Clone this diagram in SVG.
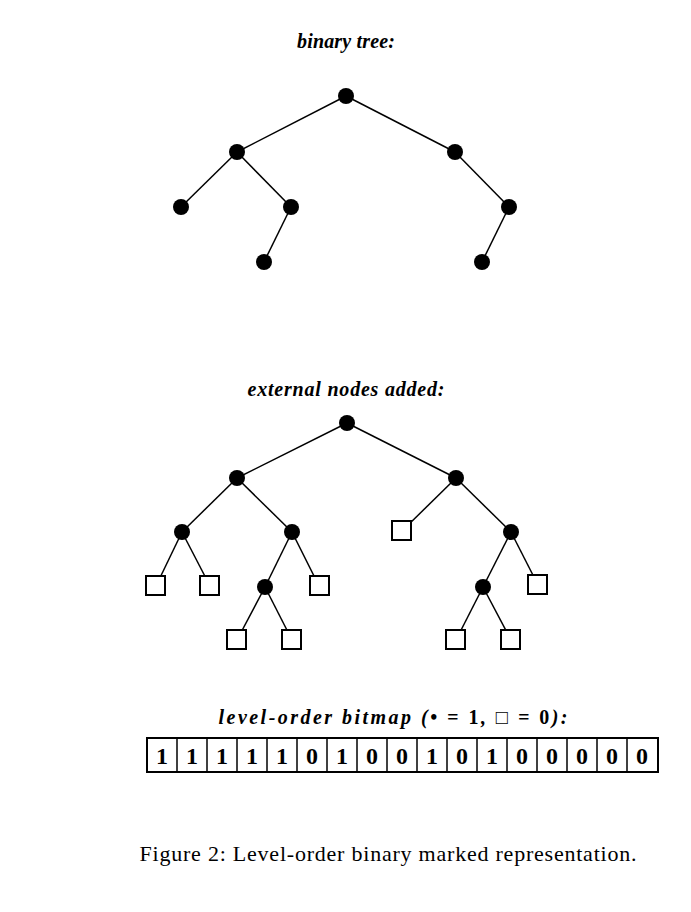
<svg xmlns="http://www.w3.org/2000/svg" width="691" height="912" viewBox="0 0 691 912">
<style>
.t{font-family:"Liberation Serif",serif;font-style:italic;font-weight:bold;font-size:20px;text-anchor:middle}
.e{stroke:#000;stroke-width:1.5}
.d{fill:#000}
.s{fill:#fff;stroke:#000;stroke-width:2}
.c{fill:#fff;stroke:#000;stroke-width:2}
.b{font-family:"Liberation Serif",serif;font-weight:bold;font-size:24px;text-anchor:middle}
</style>
<rect width="691" height="912" fill="#fff"/>
<text class="t" x="346" y="48" textLength="98" lengthAdjust="spacing">binary tree:</text>
<g id="connectors1">
<line class="e" x1="346" y1="96" x2="237" y2="152"/><line class="e" x1="346" y1="96" x2="455" y2="152"/>
<line class="e" x1="237" y1="152" x2="181" y2="207"/><line class="e" x1="237" y1="152" x2="291" y2="207"/>
<line class="e" x1="455" y1="152" x2="509" y2="207"/><line class="e" x1="291" y1="207" x2="264" y2="262"/>
<line class="e" x1="509" y1="207" x2="482" y2="262"/>
</g>
<g id="tree1">
<circle class="d" cx="346" cy="96" r="8"/><circle class="d" cx="237" cy="152" r="8"/><circle class="d" cx="455" cy="152" r="8"/>
<circle class="d" cx="181" cy="207" r="8"/><circle class="d" cx="291" cy="207" r="8"/><circle class="d" cx="509" cy="207" r="8"/>
<circle class="d" cx="264" cy="262" r="8"/><circle class="d" cx="482" cy="262" r="8"/>
</g>
<text class="t" x="346" y="396" textLength="197" lengthAdjust="spacing">external nodes added:</text>
<g id="connectors2">
<line class="e" x1="347" y1="423" x2="237" y2="478"/><line class="e" x1="347" y1="423" x2="456" y2="478"/>
<line class="e" x1="237" y1="478" x2="182" y2="532"/><line class="e" x1="237" y1="478" x2="292" y2="532"/>
<line class="e" x1="456" y1="478" x2="402" y2="531"/><line class="e" x1="456" y1="478" x2="511" y2="532"/>
<line class="e" x1="182" y1="532" x2="156" y2="586"/><line class="e" x1="182" y1="532" x2="210" y2="586"/>
<line class="e" x1="292" y1="532" x2="265" y2="587"/><line class="e" x1="292" y1="532" x2="319" y2="586"/>
<line class="e" x1="511" y1="532" x2="483" y2="587"/><line class="e" x1="511" y1="532" x2="538" y2="585"/>
<line class="e" x1="265" y1="587" x2="237" y2="640"/><line class="e" x1="265" y1="587" x2="292" y2="640"/>
<line class="e" x1="483" y1="587" x2="456" y2="640"/><line class="e" x1="483" y1="587" x2="511" y2="640"/>
</g>
<g id="tree2">
<circle class="d" cx="347" cy="423" r="8"/><circle class="d" cx="237" cy="478" r="8"/><circle class="d" cx="456" cy="478" r="8"/>
<circle class="d" cx="182" cy="532" r="8"/><circle class="d" cx="292" cy="532" r="8"/><circle class="d" cx="511" cy="532" r="8"/>
<circle class="d" cx="265" cy="587" r="8"/><circle class="d" cx="483" cy="587" r="8"/>
<rect class="s" x="392" y="521" width="19" height="19"/>
<rect class="s" x="146" y="576" width="19" height="19"/><rect class="s" x="200" y="576" width="19" height="19"/>
<rect class="s" x="310" y="576" width="19" height="19"/><rect class="s" x="528" y="575" width="19" height="19"/>
<rect class="s" x="227" y="630" width="19" height="19"/><rect class="s" x="282" y="630" width="19" height="19"/>
<rect class="s" x="446" y="630" width="19" height="19"/><rect class="s" x="501" y="630" width="19" height="19"/>
</g>
<text class="t" x="393" y="724" textLength="349" lengthAdjust="spacing">level-order bitmap (<tspan font-style="normal">•</tspan> = <tspan font-style="normal">1</tspan>, <tspan font-style="normal" font-weight="normal">□</tspan> = <tspan font-style="normal">0</tspan>):</text>
<g id="bitmap">
<rect class="c" x="147" y="738" width="511" height="34"/>
<g class="e">
<line x1="177" y1="738" x2="177" y2="772"/><line x1="207" y1="738" x2="207" y2="772"/><line x1="237" y1="738" x2="237" y2="772"/>
<line x1="267" y1="738" x2="267" y2="772"/><line x1="297" y1="738" x2="297" y2="772"/><line x1="327" y1="738" x2="327" y2="772"/>
<line x1="357" y1="738" x2="357" y2="772"/><line x1="387" y1="738" x2="387" y2="772"/><line x1="417" y1="738" x2="417" y2="772"/>
<line x1="447" y1="738" x2="447" y2="772"/><line x1="477" y1="738" x2="477" y2="772"/><line x1="507" y1="738" x2="507" y2="772"/>
<line x1="537" y1="738" x2="537" y2="772"/><line x1="567" y1="738" x2="567" y2="772"/><line x1="597" y1="738" x2="597" y2="772"/>
<line x1="627" y1="738" x2="627" y2="772"/>
</g>
<text class="b" y="764"><tspan x="162">1</tspan><tspan x="192">1</tspan><tspan x="222">1</tspan><tspan x="252">1</tspan><tspan x="282">1</tspan><tspan x="312">0</tspan><tspan x="342">1</tspan><tspan x="372">0</tspan><tspan x="402">0</tspan><tspan x="432">1</tspan><tspan x="462">0</tspan><tspan x="492">1</tspan><tspan x="522">0</tspan><tspan x="552">0</tspan><tspan x="582">0</tspan><tspan x="612">0</tspan><tspan x="642">0</tspan></text>
</g>
<text x="388" y="861" font-family="Liberation Serif,serif" font-size="22" text-anchor="middle" textLength="497" lengthAdjust="spacing">Figure 2: Level-order binary marked representation.</text>
</svg>
